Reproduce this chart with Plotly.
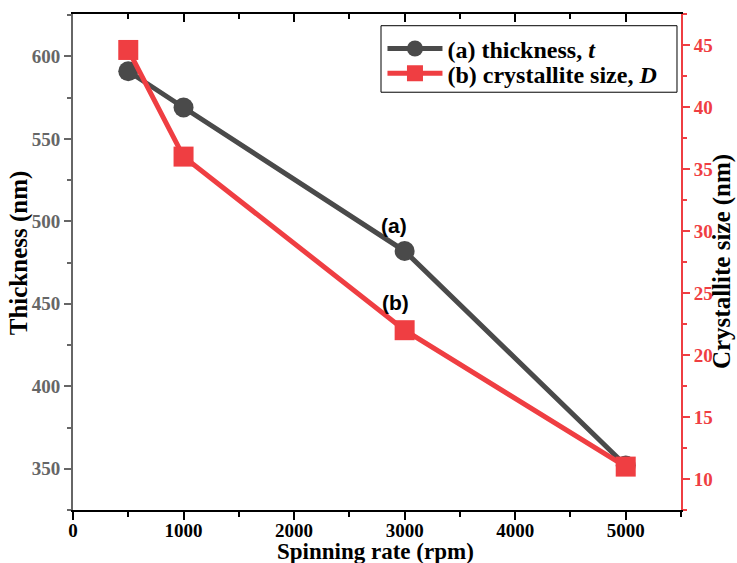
import plotly.graph_objects as go

rpm = [500, 1000, 3000, 5000]
thickness = [591, 569, 482, 352]
crystallite = [44.6, 36.0, 22.0, 11.0]
x_ticks = [0, 1000, 2000, 3000, 4000, 5000]
left_ticks = [350, 400, 450, 500, 550, 600]
right_ticks = [10, 15, 20, 25, 30, 35, 40, 45]

GREY = "#4a4a4a"
RED = "#ef3e42"
SERIF = "Liberation Serif"

fig = go.Figure()
fig.add_trace(go.Scatter(
    x=rpm, y=thickness, mode="lines+markers", name="(a) thickness, <i>t</i>",
    line=dict(color=GREY, width=5), marker=dict(symbol="circle", size=20, color=GREY),
    yaxis="y", legend="legend"))
fig.add_trace(go.Scatter(
    x=rpm, y=crystallite, mode="lines+markers", name="(b) crystallite size, <i>D</i>",
    line=dict(color=RED, width=5), marker=dict(symbol="square", size=20, color=RED),
    yaxis="y2", legend="legend2"))
# helper trace for top mirrored axis (invisible)
fig.add_trace(go.Scatter(x=[rpm[0]], y=[thickness[0]], xaxis="x2", yaxis="y", mode="markers",
                         marker=dict(opacity=0), showlegend=False, hoverinfo="skip"))

legfont = dict(family=SERIF, size=24, color="black", weight="bold")
fig.update_layout(
    width=737, height=563,
    margin=dict(l=73, r=56, t=14, b=53, autoexpand=False),
    plot_bgcolor="white", paper_bgcolor="white",
    font=dict(family=SERIF, size=19, color="black"),
    showlegend=True,
    legend=dict(x=0.509, y=0.975, xanchor="left", yanchor="top", borderwidth=0,
                bgcolor="rgba(0,0,0,0)", font=legfont, itemwidth=55),
    legend2=dict(x=0.509, y=0.925, xanchor="left", yanchor="top", borderwidth=0,
                 bgcolor="rgba(0,0,0,0)", font=legfont, itemwidth=55),
    shapes=[dict(type="rect", xref="paper", yref="paper", x0=0.5066, x1=0.9934,
                 y0=0.8423, y1=0.9764, line=dict(color="black", width=1),
                 fillcolor="white", layer="below")],
    xaxis=dict(range=[0, 5500], tickvals=x_ticks, ticktext=[str(v) for v in x_ticks],
               showline=True, linecolor="black", linewidth=2, automargin=False,
               ticks="outside", ticklen=8, tickwidth=2, tickcolor="black",
               ticklabelstandoff=-6,
               minor=dict(dtick=500, tick0=0, ticks="outside", ticklen=5, tickwidth=2, tickcolor="black"),
               showgrid=False, zeroline=False,
               tickfont=dict(family=SERIF, size=19, color="black", weight="bold")),
    xaxis2=dict(range=[0, 5500], overlaying="x", side="top", anchor="y", automargin=False,
                showline=True, linecolor="black", linewidth=2,
                tickvals=x_ticks, ticks="inside", ticklen=8, tickwidth=2, tickcolor="black",
                minor=dict(dtick=500, tick0=0, ticks="inside", ticklen=5, tickwidth=2, tickcolor="black"),
                showticklabels=False, showgrid=False, zeroline=False),
    yaxis=dict(range=[325, 625.7], tickvals=left_ticks, automargin=False,
               showline=True, linecolor="#666666", linewidth=2,
               ticks="outside", ticklen=7, tickwidth=2, tickcolor="#666666",
               minor=dict(dtick=25, tick0=0, ticks="outside", ticklen=4, tickwidth=2, tickcolor="#666666"),
               showgrid=False, zeroline=False,
               tickfont=dict(family=SERIF, size=19, color="#666666", weight="bold")),
    yaxis2=dict(range=[7.5, 47.5], tickvals=right_ticks, overlaying="y", side="right",
                anchor="x", automargin=False,
                showline=True, linecolor=RED, linewidth=2,
                ticks="outside", ticklen=7, tickwidth=2, tickcolor=RED,
                minor=dict(dtick=2.5, tick0=0, ticks="outside", ticklen=4, tickwidth=2, tickcolor=RED),
                showgrid=False, zeroline=False,
                tickfont=dict(family=SERIF, size=19, color=RED, weight="bold")),
    annotations=[
        dict(x=2900, y=497.5, xref="x", yref="y", text="<b>(a)</b>", showarrow=False,
             font=dict(family="Liberation Sans", size=21, color="black")),
        dict(x=2915, y=450.5, xref="x", yref="y", text="<b>(b)</b>", showarrow=False,
             font=dict(family="Liberation Sans", size=21, color="black")),
        dict(x=0.497, y=-0.0827, xref="paper", yref="paper", xanchor="center", yanchor="middle",
             text="<b>Spinning rate (rpm)</b>", showarrow=False,
             font=dict(family=SERIF, size=23, color="black")),
        dict(x=-0.0885, y=0.518, xref="paper", yref="paper", xanchor="center", yanchor="middle",
             text="<b>Thickness (nm)</b>", showarrow=False, textangle=-90,
             font=dict(family=SERIF, size=25, color="black")),
        dict(x=1.0675, y=0.50, xref="paper", yref="paper", xanchor="center", yanchor="middle",
             text="<b>Crystallite size (nm)</b>", showarrow=False, textangle=-90,
             font=dict(family=SERIF, size=25, color="black")),
    ],
)

fig.write_html("out.html")
